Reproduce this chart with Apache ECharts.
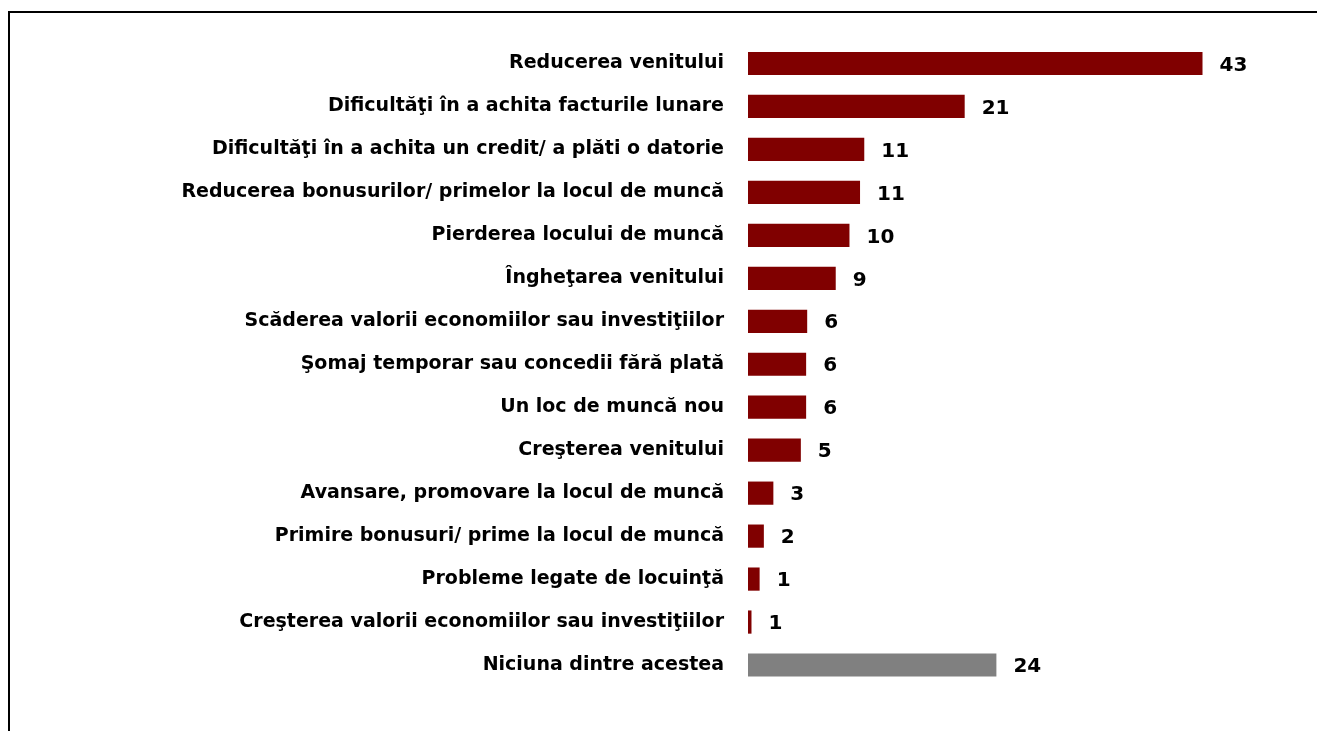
<!DOCTYPE html>
<html>
<head>
<meta charset="utf-8">
<title>Bar chart</title>
<script src="https://cdn.jsdelivr.net/npm/echarts@6/dist/echarts.min.js"></script>
<style>
  html, body { margin: 0; padding: 0; background: #ffffff; }
  #main { width: 1317px; height: 731px; }
</style>
</head>
<body>
<div id="main"></div>
<script>
// categorii (de sus in jos)
var categories = [
    'Reducerea venitului',
    'Dificultăţi în a achita facturile lunare',
    'Dificultăţi în a achita un credit/ a plăti o datorie',
    'Reducerea bonusurilor/ primelor la locul de muncă',
    'Pierderea locului de muncă',
    'Îngheţarea venitului',
    'Scăderea valorii economiilor sau investiţiilor',
    'Şomaj temporar sau concedii fără plată',
    'Un loc de muncă nou',
    'Creşterea venitului',
    'Avansare, promovare la locul de muncă',
    'Primire bonusuri/ prime la locul de muncă',
    'Probleme legate de locuinţă',
    'Creşterea valorii economiilor sau investiţiilor',
    'Niciuna dintre acestea'
];
// lungimea barelor
var values = [43, 20.5, 11, 10.6, 9.6, 8.3, 5.6, 5.5, 5.5, 5.0, 2.4, 1.5, 1.1, 0.33, 23.5];
// etichetele afisate
var valueLabels = [43, 21, 11, 11, 10, 9, 6, 6, 6, 5, 3, 2, 1, 1, 24];
var lastIndex = categories.length - 1; // ultima bara e gri

var barData = values.map(function (v, i) {
    return {
        value: v,
        itemStyle: { color: i === lastIndex ? '#808080' : '#800000' }
    };
});

var option = {
    backgroundColor: '#ffffff',
    animation: false,
    textStyle: { fontFamily: 'DejaVu Sans' },
    graphic: [
        {
            type: 'rect',
            shape: { x: 9, y: 12, width: 1400, height: 800 },
            style: { fill: 'none', stroke: '#000000', lineWidth: 2 },
            silent: true
        }
    ],
    grid: {
        left: 748,
        right: 40.5,
        top: 42,
        bottom: 44.5,
        containLabel: false
    },
    xAxis: {
        type: 'value',
        min: 0,
        max: 50,
        show: false
    },
    yAxis: {
        type: 'category',
        inverse: true,
        data: categories,
        axisLine: { show: false },
        axisTick: { show: false },
        axisLabel: {
            margin: 24,
            color: '#000000',
            fontWeight: 'bold',
            fontSize: 19,
            fontFamily: 'DejaVu Sans'
        }
    },
    series: [
        {
            type: 'bar',
            data: barData,
            barCategoryGap: '46%',
            label: {
                show: true,
                position: 'right',
                distance: 17,
                color: '#000000',
                fontWeight: 'bold',
                fontSize: 20,
                fontFamily: 'DejaVu Sans',
                offset: [0, 2],
                formatter: function (p) { return valueLabels[p.dataIndex]; }
            }
        }
    ]
};

var myChart = echarts.init(document.getElementById('main'));
myChart.setOption(option);
</script>
</body>
</html>
